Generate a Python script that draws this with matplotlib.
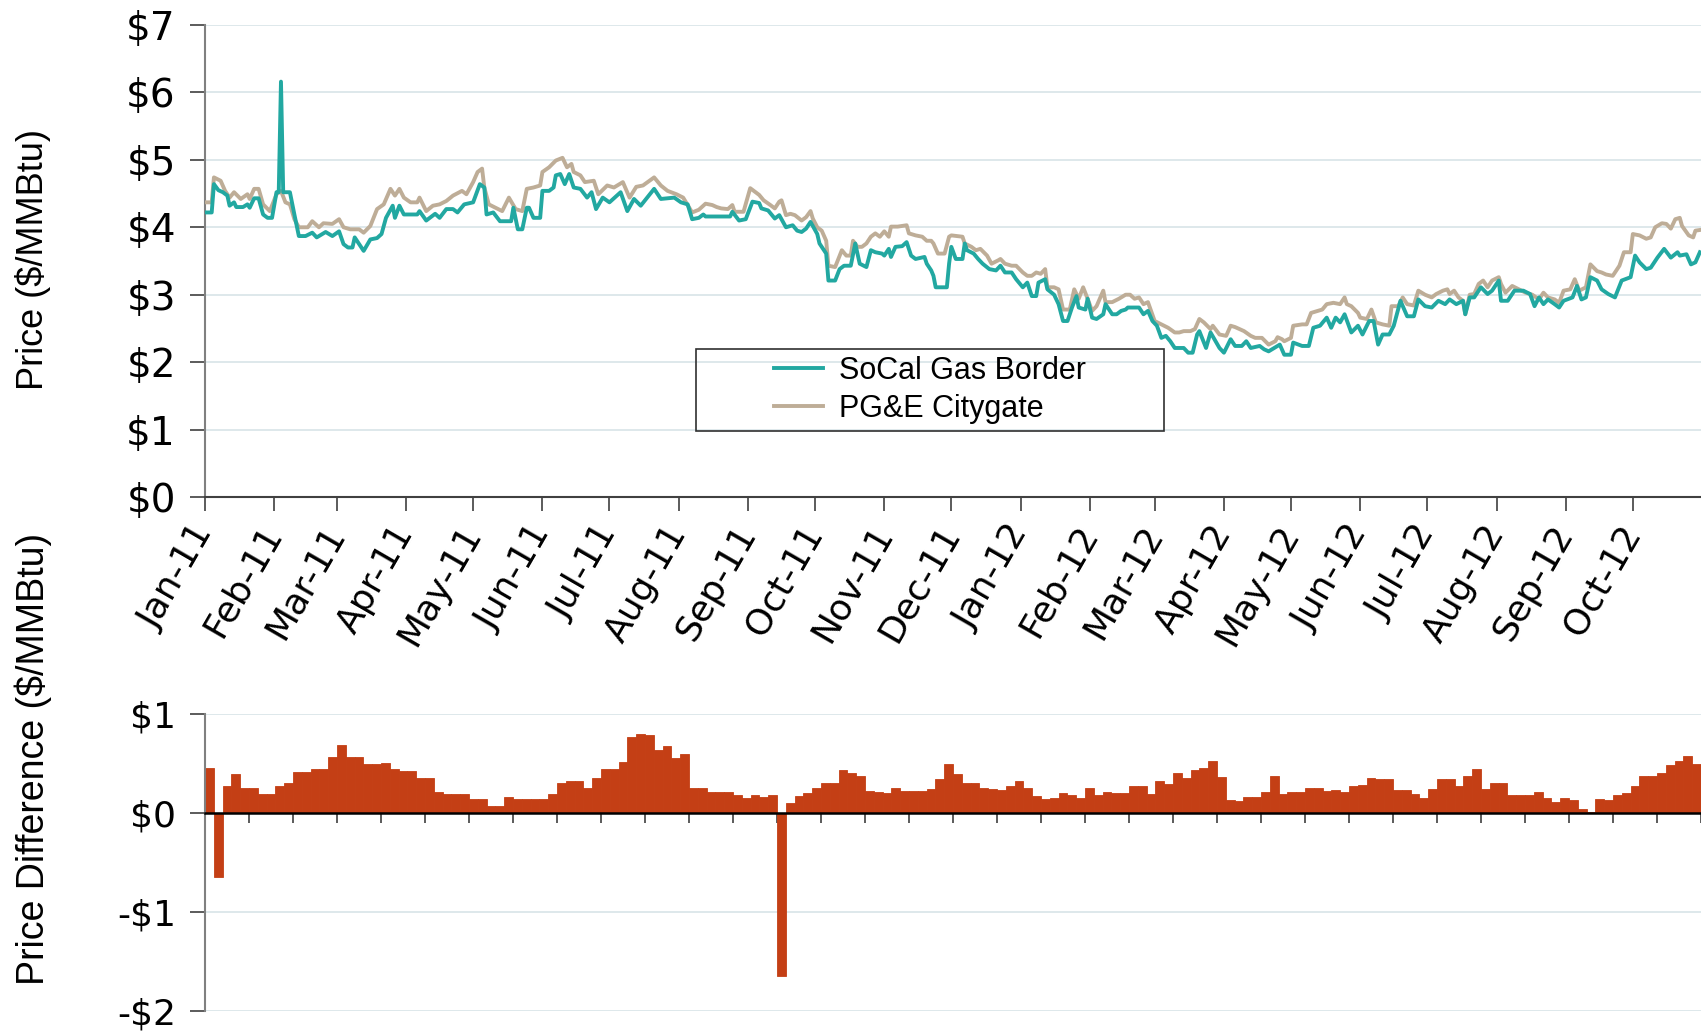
import numpy as np
import pandas as pd
import matplotlib
matplotlib.use('Agg')
import matplotlib.pyplot as plt
from matplotlib.patches import Rectangle
from matplotlib.lines import Line2D

plt.rcParams['font.family'] = ['Liberation Sans', 'DejaVu Sans']

start = pd.Timestamp('2011-01-01')

# SoCal Gas Border: day number counted from 1 Jan 2011, price in $/MMBtu
socal_day = [0, 3, 4, 6, 8, 10, 11, 13, 14, 17, 19, 20, 22, 24, 26, 28, 30, 32, 33, 34,
             35, 38, 40, 42, 45, 48, 50, 54, 57, 60, 62, 64, 66, 67, 71, 74, 77, 79, 81, 84,
             85, 87, 89, 95, 96, 99, 103, 105, 108, 111, 113, 116, 120, 123, 125, 126, 129, 132, 137, 138,
             140, 142, 144, 145, 147, 150, 151, 154, 156, 157, 159, 161, 163, 165, 168, 171, 173, 175, 178, 181,
             186, 189, 192, 195, 201, 204, 210, 213, 216, 218, 221, 223, 224, 235, 236, 239, 242, 245, 248, 249,
             252, 255, 257, 260, 263, 265, 267, 269, 271, 274, 275, 278, 279, 282, 284, 286, 289, 291, 293, 296,
             298, 300, 303, 304, 306, 307, 309, 312, 314, 316, 318, 322, 323, 325, 326, 327, 332, 333, 334, 336,
             339, 340, 341, 344, 346, 348, 351, 354, 356, 358, 361, 363, 366, 368, 370, 372, 373, 376, 377, 380,
             382, 384, 386, 388, 390, 391, 394, 395, 397, 399, 402, 403, 406, 408, 410, 412, 413, 418, 420, 422,
             424, 426, 428, 430, 432, 434, 438, 440, 442, 444, 445, 448, 450, 454, 456, 459, 461, 464, 466, 468,
             472, 474, 476, 480, 481, 483, 486, 487, 491, 494, 496, 499, 502, 504, 506, 508, 510, 513, 516, 518,
             521, 523, 525, 527, 530, 532, 535, 538, 541, 543, 546, 549, 552, 555, 557, 560, 563, 564, 566, 568,
             571, 574, 576, 579, 580, 583, 586, 590, 593, 595, 597, 599, 601, 604, 606, 608, 612, 614, 616, 618,
             620, 623, 625, 628, 631, 634, 638, 640, 642, 645, 647, 650, 653, 656, 659, 660, 663, 665, 667, 669]
socal_price = [4.22, 4.22, 4.64, 4.55, 4.52, 4.47, 4.32, 4.37, 4.30, 4.30, 4.34, 4.29, 4.43, 4.43, 4.19, 4.14, 4.14, 4.52, 4.52, 6.16,
               4.52, 4.52, 4.19, 3.87, 3.87, 3.92, 3.85, 3.93, 3.87, 3.94, 3.75, 3.70, 3.70, 3.85, 3.65, 3.82, 3.84, 3.90, 4.14, 4.32,
               4.14, 4.32, 4.19, 4.19, 4.24, 4.10, 4.20, 4.14, 4.27, 4.27, 4.22, 4.34, 4.37, 4.64, 4.59, 4.19, 4.22, 4.09, 4.09, 4.29,
               3.97, 3.97, 4.29, 4.29, 4.14, 4.14, 4.54, 4.54, 4.59, 4.77, 4.79, 4.64, 4.79, 4.59, 4.57, 4.44, 4.52, 4.27, 4.44, 4.37,
               4.52, 4.24, 4.42, 4.32, 4.57, 4.42, 4.44, 4.37, 4.34, 4.12, 4.14, 4.19, 4.16, 4.16, 4.23, 4.10, 4.12, 4.38, 4.36, 4.28,
               4.25, 4.13, 4.18, 4.00, 4.03, 3.95, 3.93, 3.98, 4.08, 3.90, 3.76, 3.61, 3.21, 3.21, 3.38, 3.43, 3.43, 3.76, 3.46, 3.41,
               3.66, 3.63, 3.61, 3.58, 3.68, 3.56, 3.71, 3.72, 3.78, 3.58, 3.53, 3.56, 3.46, 3.36, 3.28, 3.11, 3.11, 3.46, 3.71, 3.53,
               3.53, 3.76, 3.66, 3.61, 3.53, 3.46, 3.38, 3.36, 3.43, 3.33, 3.33, 3.23, 3.11, 3.18, 2.98, 2.98, 3.18, 3.23, 3.08, 3.00,
               2.86, 2.61, 2.61, 2.81, 2.98, 2.81, 2.78, 2.94, 2.66, 2.64, 2.71, 2.86, 2.71, 2.71, 2.76, 2.78, 2.81, 2.81, 2.71, 2.76,
               2.61, 2.54, 2.36, 2.39, 2.31, 2.21, 2.21, 2.14, 2.14, 2.41, 2.46, 2.21, 2.44, 2.21, 2.14, 2.34, 2.24, 2.24, 2.31, 2.21,
               2.24, 2.19, 2.16, 2.24, 2.26, 2.11, 2.11, 2.29, 2.24, 2.24, 2.51, 2.54, 2.66, 2.51, 2.66, 2.59, 2.71, 2.44, 2.54, 2.41,
               2.61, 2.61, 2.26, 2.41, 2.41, 2.54, 2.91, 2.68, 2.68, 2.93, 2.83, 2.81, 2.91, 2.86, 2.93, 2.86, 2.91, 2.71, 2.96, 2.96,
               3.11, 3.01, 3.06, 3.21, 2.91, 2.91, 3.06, 3.06, 3.01, 2.83, 2.96, 2.86, 2.93, 2.86, 2.81, 2.91, 2.96, 3.13, 2.93, 2.96,
               3.26, 3.21, 3.08, 3.01, 2.96, 3.21, 3.26, 3.58, 3.48, 3.38, 3.40, 3.55, 3.68, 3.55, 3.63, 3.58, 3.60, 3.45, 3.48, 3.63]

# PG&E Citygate
pge_day = [0, 3, 4, 7, 9, 11, 13, 16, 19, 20, 22, 24, 26, 29, 32, 34, 36, 38, 40, 42,
           46, 48, 51, 53, 57, 60, 62, 65, 69, 71, 74, 77, 80, 83, 85, 87, 89, 92, 95, 96,
           99, 102, 105, 108, 111, 115, 117, 120, 122, 124, 125, 127, 130, 133, 136, 139, 142, 144, 147, 150,
           151, 154, 157, 160, 162, 164, 165, 168, 170, 174, 176, 180, 183, 187, 190, 193, 196, 201, 204, 207,
           211, 214, 218, 221, 224, 227, 229, 231, 234, 236, 237, 241, 244, 246, 248, 250, 253, 255, 257, 258,
           260, 262, 264, 267, 269, 271, 272, 274, 276, 278, 279, 282, 285, 287, 289, 290, 292, 294, 296, 298,
           300, 302, 304, 306, 307, 310, 314, 315, 318, 321, 323, 325, 326, 328, 331, 333, 334, 339, 340, 343,
           345, 347, 350, 352, 355, 356, 358, 361, 363, 366, 368, 370, 372, 374, 376, 377, 380, 382, 384, 387,
           389, 391, 393, 395, 397, 399, 402, 403, 406, 409, 412, 414, 416, 418, 420, 422, 425, 428, 431, 434,
           436, 438, 441, 443, 445, 447, 450, 451, 454, 457, 459, 461, 465, 468, 470, 473, 476, 479, 480, 482,
           483, 486, 487, 491, 493, 495, 498, 500, 502, 505, 508, 510, 511, 513, 516, 517, 520, 522, 524, 527,
           530, 531, 534, 536, 538, 541, 543, 546, 549, 551, 554, 556, 557, 559, 561, 563, 564, 566, 568, 570,
           572, 574, 576, 579, 580, 582, 585, 588, 591, 594, 597, 599, 601, 604, 606, 608, 611, 613, 615, 618,
           620, 623, 625, 627, 630, 633, 635, 638, 639, 642, 645, 647, 649, 652, 654, 656, 658, 660, 661, 664,
           666, 667, 669]
pge_price = [4.37, 4.37, 4.74, 4.69, 4.54, 4.44, 4.52, 4.42, 4.49, 4.42, 4.57, 4.57, 4.34, 4.24, 4.49, 4.54, 4.37, 4.34, 4.12, 4.00,
             4.00, 4.09, 4.00, 4.06, 4.05, 4.12, 4.00, 3.97, 3.97, 3.92, 4.02, 4.27, 4.34, 4.57, 4.47, 4.57, 4.44, 4.37, 4.37, 4.44,
             4.24, 4.32, 4.34, 4.39, 4.47, 4.54, 4.49, 4.67, 4.82, 4.87, 4.59, 4.34, 4.29, 4.24, 4.44, 4.27, 4.24, 4.57, 4.59, 4.62,
             4.82, 4.89, 4.99, 5.03, 4.89, 4.94, 4.82, 4.77, 4.67, 4.69, 4.49, 4.62, 4.59, 4.67, 4.44, 4.60, 4.62, 4.74, 4.62, 4.54,
             4.49, 4.44, 4.22, 4.26, 4.35, 4.33, 4.30, 4.28, 4.27, 4.33, 4.23, 4.23, 4.58, 4.53, 4.48, 4.40, 4.33, 4.28, 4.38, 4.40,
             4.18, 4.20, 4.18, 4.10, 4.15, 4.24, 4.13, 4.00, 3.95, 3.80, 3.43, 3.41, 3.66, 3.58, 3.58, 3.80, 3.71, 3.71, 3.76, 3.86,
             3.91, 3.86, 3.94, 3.86, 4.01, 4.01, 4.03, 3.91, 3.88, 3.86, 3.80, 3.80, 3.76, 3.61, 3.61, 3.86, 3.88, 3.86, 3.76, 3.71,
             3.66, 3.68, 3.58, 3.46, 3.51, 3.53, 3.46, 3.43, 3.43, 3.33, 3.28, 3.28, 3.33, 3.31, 3.38, 3.11, 3.11, 3.08, 2.78, 2.78,
             3.08, 2.94, 3.11, 2.94, 2.76, 2.83, 3.06, 2.89, 2.89, 2.94, 3.00, 3.00, 2.94, 2.96, 2.86, 2.89, 2.61, 2.56, 2.51, 2.44,
             2.44, 2.46, 2.46, 2.49, 2.64, 2.59, 2.49, 2.54, 2.41, 2.39, 2.54, 2.52, 2.46, 2.39, 2.36, 2.36, 2.26, 2.31, 2.37, 2.34,
             2.31, 2.36, 2.54, 2.56, 2.56, 2.73, 2.76, 2.78, 2.86, 2.88, 2.86, 2.96, 2.86, 2.83, 2.73, 2.66, 2.64, 2.78, 2.59, 2.56,
             2.54, 2.83, 2.83, 2.96, 2.86, 2.84, 3.06, 3.00, 2.96, 3.01, 3.06, 3.08, 3.01, 3.06, 2.96, 2.91, 2.71, 3.00, 3.01, 3.16,
             3.21, 3.11, 3.21, 3.26, 3.16, 3.03, 3.13, 3.08, 3.03, 3.00, 2.93, 3.03, 2.96, 2.93, 2.88, 3.06, 3.08, 3.23, 3.06, 3.11,
             3.45, 3.35, 3.33, 3.30, 3.28, 3.43, 3.63, 3.63, 3.90, 3.88, 3.83, 3.85, 4.00, 4.06, 4.05, 3.98, 4.12, 4.14, 4.02, 3.88,
             3.85, 3.95, 3.96]

# price difference bars (PG&E Citygate minus SoCal Gas Border)
diff_vals = [0.45, -0.65, 0.27, 0.39, 0.25, 0.25, 0.19, 0.19, 0.27, 0.30,
             0.41, 0.41, 0.44, 0.44, 0.57, 0.69, 0.57, 0.57, 0.49, 0.49,
             0.51, 0.44, 0.42, 0.42, 0.35, 0.35, 0.21, 0.19, 0.19, 0.19,
             0.14, 0.14, 0.07, 0.07, 0.16, 0.14, 0.14, 0.14, 0.14, 0.19,
             0.30, 0.32, 0.32, 0.25, 0.35, 0.44, 0.44, 0.52, 0.77, 0.80,
             0.79, 0.64, 0.68, 0.56, 0.60, 0.25, 0.25, 0.21, 0.21, 0.21,
             0.18, 0.15, 0.18, 0.16, 0.18, -1.65, 0.10, 0.17, 0.20, 0.25,
             0.30, 0.30, 0.43, 0.40, 0.37, 0.22, 0.21, 0.20, 0.25, 0.22,
             0.22, 0.22, 0.24, 0.34, 0.50, 0.39, 0.30, 0.30, 0.25, 0.24,
             0.23, 0.27, 0.32, 0.25, 0.17, 0.14, 0.15, 0.20, 0.18, 0.15,
             0.25, 0.18, 0.21, 0.20, 0.20, 0.27, 0.27, 0.19, 0.32, 0.29,
             0.40, 0.35, 0.43, 0.45, 0.53, 0.36, 0.13, 0.12, 0.16, 0.16,
             0.21, 0.37, 0.19, 0.21, 0.21, 0.25, 0.25, 0.22, 0.23, 0.21,
             0.27, 0.28, 0.35, 0.34, 0.34, 0.23, 0.23, 0.19, 0.15, 0.24,
             0.34, 0.34, 0.27, 0.37, 0.44, 0.24, 0.30, 0.30, 0.18, 0.18,
             0.18, 0.21, 0.15, 0.11, 0.15, 0.13, 0.04, 0.01, 0.14, 0.13,
             0.18, 0.20, 0.27, 0.37, 0.37, 0.40, 0.48, 0.53, 0.58, 0.49]

month_labels = ['Jan-11', 'Feb-11', 'Mar-11', 'Apr-11', 'May-11', 'Jun-11', 'Jul-11', 'Aug-11',
                'Sep-11', 'Oct-11', 'Nov-11', 'Dec-11', 'Jan-12', 'Feb-12', 'Mar-12', 'Apr-12',
                'May-12', 'Jun-12', 'Jul-12', 'Aug-12', 'Sep-12', 'Oct-12']
price_ticks = ['$0', '$1', '$2', '$3', '$4', '$5', '$6', '$7']
diff_ticks = ['-$2', '-$1', '$0', '$1']

teal = '#22A8A1'
tan = '#BEAD97'
rust = '#C43F15'
gridc = '#D8E4E8'
axc = '#808080'
tickfont = ['DejaVu Sans']

W, H = 1701, 1032
fig = plt.figure(figsize=(W / 100, H / 100), dpi=100)
ax1 = fig.add_axes([205 / W, 1 - 497 / H, 1496 / W, 472 / H])
ax2 = fig.add_axes([205 / W, 1 - 1011 / H, 1496 / W, 297 / H])

# ---- top: prices
socal_dates = start + pd.to_timedelta(socal_day, unit='D')
pge_dates = start + pd.to_timedelta(pge_day, unit='D')
ax1.plot(pge_dates, pge_price, color=tan, lw=2.8, zorder=3)
ax1.plot(socal_dates, socal_price, color=teal, lw=2.8, zorder=4)

ax1.set_ylim(0, 7)
ax1.set_yticks(range(8))
ax1.set_yticklabels(price_ticks, family=tickfont, fontsize=28)
ax1.set_xlim(start, start + pd.Timedelta(days=669.5))
month_ticks = pd.date_range('2011-01-01', periods=len(month_labels), freq='MS')
ax1.set_xticks(month_ticks)
ax1.set_xticklabels(month_labels, rotation=60, ha='right', va='center',
                    rotation_mode='anchor', family=tickfont, fontsize=26)
ax1.yaxis.grid(True, color=gridc, lw=1.2)
ax1.set_axisbelow(True)
for s in ['top', 'right']:
    ax1.spines[s].set_visible(False)
ax1.spines['left'].set_color(axc)
ax1.spines['left'].set_linewidth(1.5)
ax1.spines['bottom'].set_color('#404040')
ax1.spines['bottom'].set_linewidth(1.5)
ax1.tick_params(axis='y', direction='out', length=11, width=1.2, color='#404040', pad=10)
ax1.tick_params(axis='x', direction='out', length=10, width=1.2, color='#404040', pad=12)

# legend
handles = [Line2D([], [], color=teal, lw=2.8), Line2D([], [], color=tan, lw=2.8)]
ax1.legend(handles, ['SoCal Gas Border', 'PG&E Citygate'], loc='center',
           bbox_to_anchor=(930 / W, 1 - 390 / H), bbox_transform=fig.transFigure,
           frameon=False, fontsize=22, handlelength=1.6, handletextpad=0.5,
           labelspacing=0.25)
fig.patches.append(Rectangle((696 / W, 1 - 431 / H), 468 / W, 82 / H,
                             transform=fig.transFigure, fill=False,
                             ec='#303030', lw=1.2))

# ---- bottom: difference
xb = np.arange(len(diff_vals)) + 0.5
ax2.bar(xb, diff_vals, width=1.0, color=rust, edgecolor=rust, linewidth=0.6, zorder=2)
ax2.set_xlim(0, len(diff_vals))
ax2.set_ylim(-2, 1)
ax2.set_yticks([-2, -1, 0, 1])
ax2.set_yticklabels(diff_ticks, family=tickfont, fontsize=26)
ax2.set_xticks(np.arange(0, len(diff_vals) + 1, 5))
ax2.set_xticklabels([])
ax2.yaxis.grid(True, color=gridc, lw=1.2)
ax2.set_axisbelow(True)
for s in ['top', 'right']:
    ax2.spines[s].set_visible(False)
ax2.spines['left'].set_color(axc)
ax2.spines['left'].set_linewidth(1.5)
ax2.spines['bottom'].set_position(('data', 0))
ax2.spines['bottom'].set_color('black')
ax2.spines['bottom'].set_linewidth(1.8)
ax2.spines['bottom'].set_zorder(5)
ax2.tick_params(axis='y', direction='out', length=11, width=1.2, color='#404040', pad=10)
ax2.tick_params(axis='x', direction='out', length=7, width=1.2, color='#404040')

fig.text(33 / W, 1 - 260 / H, 'Price ($/MMBtu)', rotation=90, ha='center',
         va='center', fontsize=26)
fig.text(33 / W, 1 - 759 / H, 'Price Difference ($/MMBtu)', rotation=90,
         ha='center', va='center', fontsize=27)

fig.savefig('out.png', dpi=100)
